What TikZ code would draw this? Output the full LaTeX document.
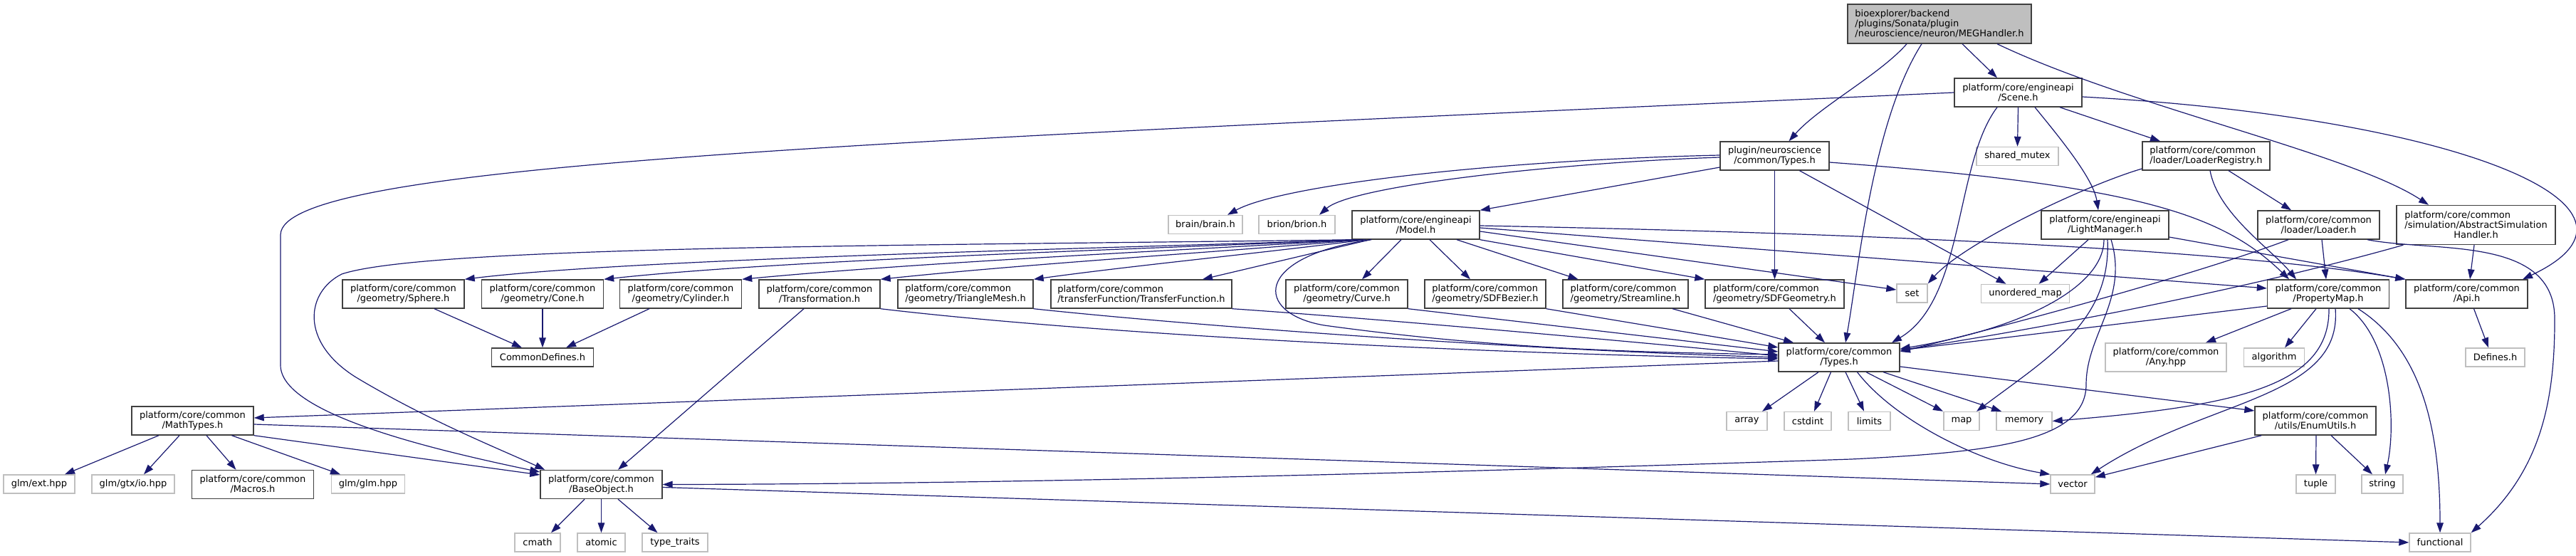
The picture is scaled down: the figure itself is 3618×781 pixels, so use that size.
\documentclass[tikz,border=0pt]{standalone}
\usepackage{fontspec}
\setmainfont{DejaVu Sans}
\usetikzlibrary{arrows.meta}
\definecolor{edgeblue}{HTML}{191970}
\definecolor{sysgray}{HTML}{BFBFBF}
\definecolor{boxline}{HTML}{404040}
\begin{document}
\begin{tikzpicture}[x=0.5pt,y=-0.5pt]
  \tikzstyle{file}=[draw=boxline,line width=0.7pt,fill=white,align=center,
    font=\fontsize{6.5}{7}\selectfont,inner xsep=2pt,inner ysep=1pt,minimum height=13pt]
  \tikzstyle{sysfile}=[file,draw=sysgray]
  \tikzstyle{rootfile}=[file,fill=sysgray]
  \tikzstyle{lines2}=[minimum height=20pt]
  \tikzstyle{lines3}=[minimum height=27.5pt]
  \tikzstyle{wd}=[minimum width=#1*0.5pt]
  \tikzstyle{incl}=[draw=edgeblue,line width=0.6pt,-{Triangle[length=7pt,width=4.8pt]}]

  \useasboundingbox (0,0) rectangle (3618,781);

  % ROOT AND FIRST LEVEL
  \node[rootfile,lines3,wd=258,align=left] (MEG) at (2724,33.5)
    {bioexplorer/backend\\/plugins/Sonata/plugin\\/neuroscience/neuron/MEGHandler.h};
  \node[file,lines2,wd=179] (Scene) at (2834.5,130) {platform/core/engineapi\\/Scene.h};
  \node[file,lines2,wd=153] (pTypes) at (2492.5,219) {plugin/neuroscience\\/common/Types.h};
  \node[sysfile,wd=115] (shmutex) at (2833.5,219.5) {shared\_mutex};
  \node[file,lines2,wd=179,align=left] (LoaderReg) at (3098.5,219)
    {platform/core/common\\/loader/LoaderRegistry.h};

  % ENGINE LEVEL
  \node[sysfile,wd=104] (brain) at (1693,315.5) {brain/brain.h};
  \node[sysfile,wd=107] (brion) at (1821.5,315.5) {brion/brion.h};
  \node[file,lines2,wd=179] (Model) at (1988.5,316) {platform/core/engineapi\\/Model.h};
  \node[file,lines2,wd=179] (LightMgr) at (2956.5,316) {platform/core/engineapi\\/LightManager.h};
  \node[file,lines2,wd=171] (Loader) at (3256.5,316) {platform/core/common\\/loader/Loader.h};
  \node[file,lines3,wd=223,align=left] (AbsSim) at (3477.5,316)
    {platform/core/common\\/simulation/AbstractSimulation\\\hfil Handler.h};

  % GEOMETRY LEVEL
  \node[file,lines2,wd=171] (Sphere) at (566.5,413) {platform/core/common\\/geometry/Sphere.h};
  \node[file,lines2,wd=171] (Cone) at (762,413) {platform/core/common\\/geometry/Cone.h};
  \node[file,lines2,wd=171] (Cylinder) at (956,413) {platform/core/common\\/geometry/Cylinder.h};
  \node[file,lines2,wd=170] (Transf) at (1151,413) {platform/core/common\\/Transformation.h};
  \node[file,lines2,wd=190,align=left] (TriMesh) at (1356,413)
    {platform/core/common\\/geometry/TriangleMesh.h};
  \node[file,lines2,wd=254,align=left] (TransFn) at (1603,413)
    {platform/core/common\\/transferFunction/TransferFunction.h};
  \node[file,lines2,wd=171] (Curve) at (1891.5,413) {platform/core/common\\/geometry/Curve.h};
  \node[file,lines2,wd=170,align=left] (SDFBezier) at (2086,413)
    {platform/core/common\\/geometry/SDFBezier.h};
  \node[file,lines2,wd=176,align=left] (Streamline) at (2283,413)
    {platform/core/common\\/geometry/Streamline.h};
  \node[file,lines2,wd=195,align=left] (SDFGeom) at (2492.5,413)
    {platform/core/common\\/geometry/SDFGeometry.h};
  \node[sysfile,wd=43] (set) at (2685.5,412) {set};
  \node[sysfile,wd=124] (umap) at (2844.5,412.5) {unordered\_map};
  \node[file,lines2,wd=171] (PropMap) at (3270,413) {platform/core/common\\/PropertyMap.h};
  \node[file,lines2,wd=171] (Api) at (3464.5,413) {platform/core/common\\/Api.h};

  % COMMON LEVEL
  \node[file,wd=142.5] (CommonDef) at (762,502) {CommonDefines.h};
  \node[file,lines2,wd=170] (Types) at (2583,502) {platform/core/common\\/Types.h};
  \node[sysfile,lines2,wd=170] (AnyHpp) at (3042,502) {platform/core/common\\/Any.hpp};
  \node[sysfile,wd=85] (algorithm) at (3194,502) {algorithm};
  \node[sysfile,wd=83] (Defines) at (3504.5,502) {Defines.h};
  \node[file,lines2,wd=171] (MathTypes) at (270.5,591) {platform/core/common\\/MathTypes.h};
  \node[sysfile,wd=57] (array) at (2453.5,591.5) {array};
  \node[sysfile,wd=66] (cstdint) at (2539,591.5) {cstdint};
  \node[sysfile,wd=59] (limits) at (2625.5,591.5) {limits};
  \node[sysfile,wd=50] (map) at (2755,591.5) {map};
  \node[sysfile,wd=78] (memory) at (2843,591.5) {memory};
  \node[file,lines2,wd=170] (EnumUtils) at (3252,591) {platform/core/common\\/utils/EnumUtils.h};

  % BOTTOM LEVEL
  \node[sysfile,wd=100] (glmext) at (55,680) {glm/ext.hpp};
  \node[sysfile,wd=116] (glmio) at (187,680) {glm/gtx/io.hpp};
  \node[file,lines2,wd=171] (Macros) at (355,680.5) {platform/core/common\\/Macros.h};
  \node[sysfile,wd=103] (glmglm) at (517,680) {glm/glm.hpp};
  \node[file,lines2,wd=171] (BaseObj) at (844.5,680.5) {platform/core/common\\/BaseObject.h};
  \node[sysfile,wd=62] (vector) at (2911,680) {vector};
  \node[sysfile,wd=55] (tuple) at (3252.5,680) {tuple};
  \node[sysfile,wd=58] (string) at (3346,680) {string};
  \node[sysfile,wd=64] (cmath) at (755,762) {cmath};
  \node[sysfile,wd=67] (atomic) at (844.5,762) {atomic};
  \node[sysfile,wd=92] (typetraits) at (948,762) {type\_traits};
  \node[sysfile,wd=86] (functional) at (3427,762) {functional};

  % MEGHandler.h
  \draw[incl] ([xshift=-23pt]MEG.south) .. controls (2640,105) and (2555,150) .. ([xshift=10pt]pTypes.north);
  \draw[incl] ([xshift=-12.5pt]MEG.south) .. controls (2630,170) and (2610,380) .. ([xshift=4.5pt]Types.north);
  \draw[incl] ([xshift=16pt]MEG.south) -- ([xshift=-14.75pt]Scene.north);
  \draw[incl] ([xshift=40.5pt]MEG.south) .. controls (2990,150) and (3300,215) .. ([xshift=-33.25pt]AbsSim.north);

  % Scene.h
  \draw[incl] (Scene.west) .. controls (1200,200) and (394,230) .. (394,330) -- (394,513)
    .. controls (394,580) and (600,630) .. ([yshift=8.75pt]BaseObj.west);
  \draw[incl] (Scene.south) -- (shmutex.north);
  \draw[incl] ([xshift=11.75pt]Scene.south) .. controls (2890,190) and (2940,250) .. ([xshift=-4.75pt]LightMgr.north);
  \draw[incl] ([xshift=29.25pt]Scene.south) -- ([xshift=-32.25pt]LoaderReg.north);
  \draw[incl] ([xshift=-14.75pt]Scene.south) .. controls (2745,230) and (2760,420) .. ([xshift=37pt]Types.north);
  \draw[incl] ([yshift=-3pt]Scene.east) .. controls (3450,165) and (3760,290) .. ([xshift=39.25pt]Api.north);

  % plugin/neuroscience/common/Types.h
  \draw[incl] ([yshift=0.5pt]pTypes.west) .. controls (2100,225) and (1800,260) .. ([xshift=15.5pt]brain.north);
  \draw[incl] ([yshift=-1pt]pTypes.west) .. controls (2200,228) and (1900,260) .. ([xshift=15.75pt]brion.north);
  \draw[incl] ([yshift=-8pt]pTypes.west) -- (Model.north east);
  \draw[incl] (pTypes.south) -- (SDFGeom.north);
  \draw[incl] ([xshift=17.5pt]pTypes.south) -- ([xshift=-13.5pt]umap.north);
  \draw[incl] ([yshift=-4.5pt]pTypes.east) .. controls (3000,260) and (3120,300) .. ([xshift=-27.5pt]PropMap.north);

  % LoaderRegistry.h
  \draw[incl] ([yshift=-9pt]LoaderReg.west) .. controls (2930,260) and (2760,340) .. (set.north east);
  \draw[incl] ([xshift=2.75pt]LoaderReg.south) .. controls (3115,300) and (3190,350) .. ([xshift=-22.5pt]PropMap.north);
  \draw[incl] ([xshift=15.75pt]LoaderReg.south) -- ([xshift=-19.25pt]Loader.north);

  % Model.h
  \draw[incl] ([xshift=2pt]Model.south west) .. controls (1600,348) and (900,362) .. (Sphere.north east);
  \draw[incl] ([xshift=4pt]Model.south west) .. controls (1600,350) and (1100,365) .. (Cone.north east);
  \draw[incl] ([xshift=6pt]Model.south west) .. controls (1650,352) and (1300,368) .. (Cylinder.north east);
  \draw[incl] ([xshift=8pt]Model.south west) .. controls (1700,355) and (1450,370) .. (Transf.north east);
  \draw[incl] ([xshift=10pt]Model.south west) .. controls (1750,358) and (1600,372) .. (TriMesh.north east);
  \draw[incl] ([xshift=13pt]Model.south west) -- ([xshift=43pt]TransFn.north);
  \draw[incl] ([xshift=1pt]Model.south west) .. controls (1300,345) and (600,345) .. (480,385)
    .. controls (430,410) and (420,480) .. (500,530)
    .. controls (600,590) and (700,630) .. ([xshift=3.5pt]BaseObj.north west);
  \draw[incl] ([xshift=-10.25pt]Model.south) -- ([xshift=10.75pt]Curve.north);
  \draw[incl] ([xshift=9.75pt]Model.south) -- ([xshift=-10.5pt]SDFBezier.north);
  \draw[incl] ([xshift=28.75pt]Model.south) -- ([xshift=-33.25pt]Streamline.north);
  \draw[incl] (Model.south east) -- (SDFGeom.north west);
  \draw[incl] ([yshift=-4.5pt]Model.east) -- ([yshift=2.5pt]set.west);
  \draw[incl] ([yshift=-2pt]Model.east) -- ([yshift=4pt]PropMap.west);
  \draw[incl] ([yshift=-0.5pt]Model.east) .. controls (2500,325) and (3100,345) .. (Api.north west);
  \draw[incl] ([xshift=14pt]Model.south west) .. controls (1760,360) and (1760,440) .. (1860,457)
    .. controls (2100,490) and (2300,495) .. ([yshift=2pt]Types.west);

  % LightManager.h
  \draw[incl] ([xshift=-11.75pt]LightMgr.south) -- ([xshift=9.5pt]umap.north);
  \draw[incl] ([xshift=-0.75pt]LightMgr.south) .. controls (2955,400) and (2850,460) .. ([yshift=6pt]Types.east);
  \draw[incl] ([xshift=1.75pt]LightMgr.south) .. controls (2965,450) and (2880,500) .. ([xshift=10.5pt]map.north);
  \draw[incl] ([xshift=4.25pt]LightMgr.south) .. controls (2990,420) and (2930,470) .. (2930,540)
    .. controls (2930,620) and (2800,635) .. (2600,645)
    .. controls (2000,665) and (1400,680) .. (BaseObj.east);
  \draw[incl] ([yshift=-8.5pt]LightMgr.east) -- (Api.north west);

  % Loader.h
  \draw[incl] ([xshift=-21.25pt]Loader.south) .. controls (3100,380) and (2850,450) .. ([yshift=4pt]Types.east);
  \draw[incl] ([xshift=2.25pt]Loader.south) -- ([xshift=-1.5pt]PropMap.north);
  \draw[incl] ([xshift=34.25pt]Loader.south) .. controls (3420,355) and (3590,330) .. (3588,450)
    .. controls (3588,560) and (3570,660) .. (functional.north east);

  % AbstractSimulationHandler.h
  \draw[incl] ([xshift=-1.25pt]AbsSim.south) -- ([xshift=2.25pt]Api.north);
  \draw[incl] ([xshift=5pt]AbsSim.south west) .. controls (3250,380) and (3000,440) .. ([yshift=5pt]Types.east);

  % PropertyMap.h
  \draw[incl] ([yshift=-8.5pt]PropMap.west) -- ([yshift=5pt]Types.east);
  \draw[incl] ([xshift=-26pt]PropMap.south) -- ([xshift=28pt]AnyHpp.north);
  \draw[incl] ([xshift=-8.5pt]PropMap.south) -- ([xshift=7.5pt]algorithm.north);
  \draw[incl] ([xshift=0.5pt]PropMap.south) .. controls (3272,540) and (3150,570) .. (memory.east);
  \draw[incl] ([xshift=5pt]PropMap.south) .. controls (3290,560) and (3100,560) .. ([xshift=-3pt]vector.north east);
  \draw[incl] ([xshift=15pt]PropMap.south) .. controls (3360,480) and (3365,600) .. ([xshift=2pt]string.north);
  \draw[incl] ([xshift=21pt]PropMap.south) .. controls (3400,490) and (3427,600) .. (functional.north);

  % Api.h
  \draw[incl] ([xshift=5pt]Api.south) -- ([xshift=-4.75pt]Defines.north);

  % platform/core/common/Types.h
  \draw[incl] ([yshift=-2.5pt]Types.west) -- ([yshift=2pt]MathTypes.east);
  \draw[incl] ([xshift=-14.5pt]Types.south) -- ([xshift=10.75pt]array.north);
  \draw[incl] ([xshift=-5.75pt]Types.south) -- ([xshift=4.5pt]cstdint.north);
  \draw[incl] ([xshift=4.5pt]Types.south) -- ([xshift=-3.75pt]limits.north);
  \draw[incl] ([xshift=12.75pt]Types.south) .. controls (2660,590) and (2780,650) .. (vector.north west);
  \draw[incl] ([xshift=19pt]Types.south) -- ([xshift=-13pt]map.north);
  \draw[incl] ([xshift=31pt]Types.south) -- ([xshift=-16pt]memory.north);
  \draw[incl] ([yshift=-6.5pt]Types.east) -- ([yshift=7pt]EnumUtils.west);

  % EnumUtils.h
  \draw[incl] ([xshift=5pt]EnumUtils.south west) -- ([yshift=-2pt]vector.north east);
  \draw[incl] ([xshift=0.5pt]EnumUtils.south) -- (tuple.north);
  \draw[incl] ([xshift=11pt]EnumUtils.south) -- ([xshift=-7pt]string.north);

  % geometry headers
  \draw[incl] ([xshift=21.75pt]Sphere.south) -- ([xshift=-14.5pt]CommonDef.north);
  \draw[incl] (Cone.south) -- (CommonDef.north);
  \draw[incl] ([xshift=-22pt]Cylinder.south) -- ([xshift=16.5pt]CommonDef.north);
  \draw[incl] (Transf.south east) .. controls (1500,465) and (2000,495) .. ([yshift=-1pt]Types.west);
  \draw[incl] ([xshift=-11pt]Transf.south) -- ([xshift=11.75pt]BaseObj.north);
  \draw[incl] (TriMesh.south east) .. controls (1650,455) and (2100,490) .. (Types.west);
  \draw[incl] (TransFn.south east) .. controls (1900,445) and (2300,480) .. ([yshift=1pt]Types.west);
  \draw[incl] (Curve.south east) -- ([yshift=4pt]Types.west);
  \draw[incl] (SDFBezier.south east) -- ([yshift=7pt]Types.west);
  \draw[incl] ([xshift=33pt]Streamline.south) -- ([xshift=-32pt]Types.north);
  \draw[incl] ([xshift=10.25pt]SDFGeom.south) -- ([xshift=-10pt]Types.north);

  % MathTypes.h
  \draw[incl] ([xshift=-23.75pt]MathTypes.south) -- ([xshift=18pt]glmext.north);
  \draw[incl] ([xshift=-9.25pt]MathTypes.south) -- ([xshift=7.5pt]glmio.north);
  \draw[incl] ([xshift=9.75pt]MathTypes.south) -- ([xshift=-11.75pt]Macros.north);
  \draw[incl] ([xshift=27.5pt]MathTypes.south) -- ([xshift=-19.5pt]glmglm.north);
  \draw[incl] (MathTypes.south east) -- ([yshift=6.75pt]BaseObj.west);
  \draw[incl] ([yshift=-2.5pt]MathTypes.east) -- (vector.west);

  % BaseObject.h
  \draw[incl] ([xshift=-11.75pt]BaseObj.south) -- ([xshift=9.5pt]cmath.north);
  \draw[incl] (BaseObj.south) -- (atomic.north);
  \draw[incl] ([xshift=11.75pt]BaseObj.south) -- ([xshift=-12.25pt]typetraits.north);
  \draw[incl] ([yshift=-2pt]BaseObj.east) -- (functional.west);
\end{tikzpicture}
\end{document}
